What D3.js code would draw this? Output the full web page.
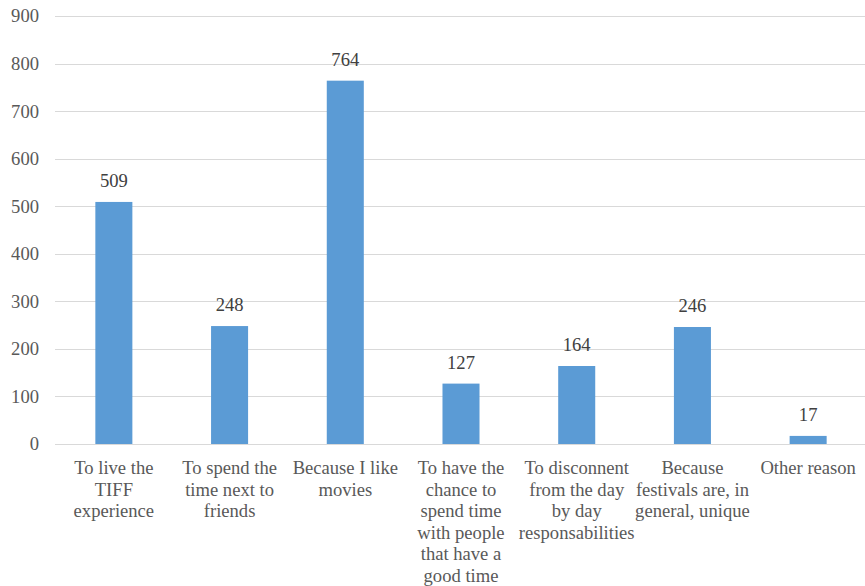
<!DOCTYPE html>
<html>
<head>
<meta charset="utf-8">
<script src="https://cdn.jsdelivr.net/npm/d3@7"></script>
</head>
<body style="margin:0; background:#fff">
<script>
// chart data
var categories = [
  "To live the TIFF experience",
  "To spend the time next to friends",
  "Because I like movies",
  "To have the chance to spend time with people that have a good time",
  "To disconnent from the day by day responsabilities",
  "Because festivals are, in general, unique",
  "Other reason"
];
var categoryLines = [
  ["To live the", "TIFF", "experience"],
  ["To spend the", "time next to", "friends"],
  ["Because I like", "movies"],
  ["To have the", "chance to", "spend time", "with people", "that have a", "good time"],
  ["To disconnent", "from the day", "by day", "responsabilities"],
  ["Because", "festivals are, in", "general, unique"],
  ["Other reason"]
];
var values = [509, 248, 764, 127, 164, 246, 17];
var yTicks = [0, 100, 200, 300, 400, 500, 600, 700, 800, 900];

const W = 865, H = 586;
const margin = {top: 16, right: 0, bottom: 142, left: 55},
      width = W - margin.left - margin.right,
      height = H - margin.top - margin.bottom;

var serif = "'Liberation Serif', serif";
var fs = "18.6px";

var svg = d3.select("body").append("svg")
  .attr("width", W)
  .attr("height", H)
  .append("g")
  .attr("transform", "translate(" + margin.left + "," + margin.top + ")");

var x = d3.scaleBand()
  .domain(categories)
  .range([0, width])
  .paddingInner(0.68)
  .paddingOuter(0.34);
var y = d3.scaleLinear()
  .domain([0, 900])
  .range([height, 0]);

// gridlines
svg.selectAll(".grid")
  .data(yTicks)
  .enter()
  .append("line")
  .attr("class", "grid")
  .attr("x1", 0)
  .attr("x2", width)
  .attr("y1", function(d) { return Math.round(y(d)) + 0.5; })
  .attr("y2", function(d) { return Math.round(y(d)) + 0.5; })
  .attr("stroke", "#d9d9d9")
  .attr("stroke-width", 1);

// y tick labels
var yAxis = d3.axisLeft(y).tickValues(yTicks).tickSize(0).tickPadding(16);
var gy = svg.append("g").attr("class", "axis y").call(yAxis)
  .attr("font-family", null);
gy.select(".domain").remove();
gy.selectAll("text")
  .style("font-size", fs)
  .style("font-family", serif)
  .attr("fill", "#595959");

// bars
svg.selectAll(".bar")
  .data(values)
  .enter()
  .append("rect")
  .attr("class", "bar")
  .attr("x", function(d, i) { return x(categories[i]) + 1; })
  .attr("width", x.bandwidth())
  .attr("y", function(d) { return y(d); })
  .attr("height", function(d) { return height - y(d); })
  .attr("fill", "#5b9bd5");

// value labels
svg.selectAll(".val")
  .data(values)
  .enter()
  .append("text")
  .attr("class", "val")
  .attr("x", function(d, i) { return x(categories[i]) + 1 + x.bandwidth() / 2; })
  .attr("y", function(d) { return y(d) - 15; })
  .attr("text-anchor", "middle")
  .style("font-size", fs)
  .style("font-family", serif)
  .style("fill", "#404040")
  .text(function(d) { return d; });

// category labels
var cat = svg.selectAll(".cat")
  .data(categories)
  .enter()
  .append("text")
  .attr("class", "cat")
  .attr("text-anchor", "middle")
  .style("font-size", fs)
  .style("font-family", serif)
  .style("fill", "#595959")
  .attr("transform", function(d) {
    return "translate(" + (x(d) + 1 + x.bandwidth() / 2) + "," + (height + 30) + ")";
  });
cat.selectAll("tspan")
  .data(function(d, i) { return categoryLines[i]; })
  .enter()
  .append("tspan")
  .attr("x", 0)
  .attr("y", function(d, i) { return i * 21.6; })
  .text(function(d) { return d; });
</script>
</body>
</html>
